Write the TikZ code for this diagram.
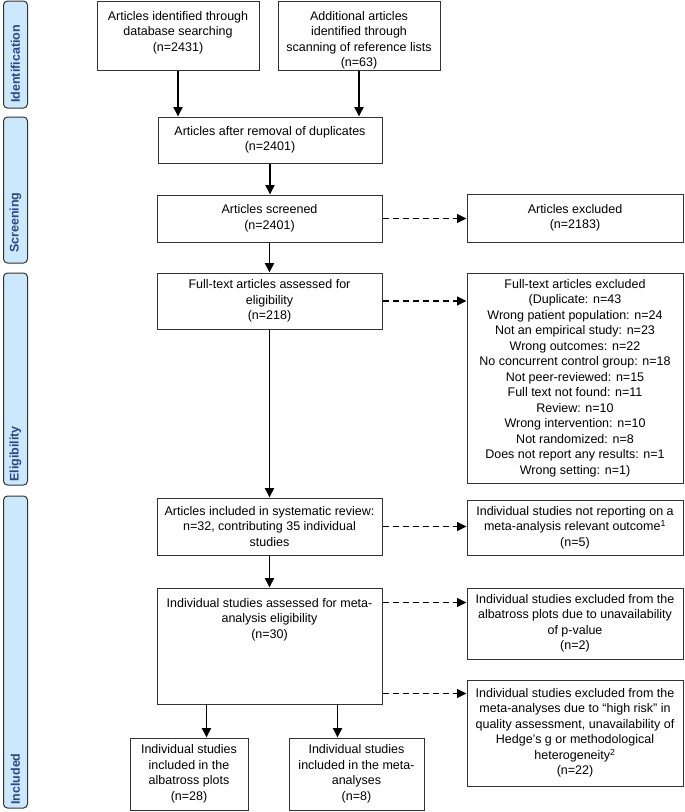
\documentclass[tikz,border=0pt]{standalone}
\usepackage{fontspec}
\setmainfont{Liberation Sans}
\usetikzlibrary{arrows.meta,calc}
\definecolor{phasefill}{HTML}{CCE8FC}
\definecolor{phasetext}{HTML}{2A4888}
\definecolor{boxline}{HTML}{333333}
\newcommand\fsz{\fontsize{12.5}{15.5}\selectfont}
\newcommand\fbx[6]{\node[flowbox, minimum width={(#4-#2)*1pt}, minimum height={(#5-#3)*1pt}] (#1) at ({(#2+#4)/2},{(#3+#5)/2}) {#6};}
\newcommand\tbx[6]{\node[flowbox, minimum width={(#4-#2)*1pt}, minimum height={(#5-#3)*1pt}] (#1) at ({(#2+#4)/2},{(#3+#5)/2}) {};
  \node[txt, anchor=north] (#1-t) at ([yshift=-10.5pt]#1.north) {#6};}
\newcommand\phs[5]{\node[phasebox, minimum height={(#3-#2)*1pt}] (#1) at (15.5,{(#2+#3)/2}) {};
  \node[phasetxt] (#1-t) at (15.5,#4) {#5};}
\begin{document}
\begin{tikzpicture}[x=1pt,y=-1pt,
  flowbox/.style={draw=boxline, line width=1pt, fill=white, inner sep=0pt, align=center, font=\fsz},
  txt/.style={inner sep=0pt, align=center, font=\fsz},
  phasebox/.style={draw=boxline, fill=phasefill, rounded corners=4pt, minimum width=24pt, line width=1pt, inner sep=0pt},
  phasetxt/.style={rotate=90, anchor=west, inner sep=0pt, text=phasetext, font=\fsz\bfseries},
  arr/.style={line width=1.9pt, -{Triangle[length=9.5pt,width=9pt]}},
  darr/.style={line width=1.5pt, dash pattern=on 6pt off 4pt, -{Triangle[length=9.5pt,width=9pt]}}]
\useasboundingbox[fill=white] (0,0) rectangle (685,812);

% phase labels
\phs{pI}{1}{108}{103}{Identification}
\phs{pS}{117}{263}{253}{Screening}
\phs{pE}{273}{485}{482}{Eligibility}
\phs{pN}{496}{808}{805}{Included}

% boxes
\tbx{b1}{97}{1}{259}{70}{Articles identified through\\database searching\\(n=2431)}
\tbx{b2}{278}{1}{440}{70}{Additional articles\\identified through\\scanning of reference lists\\(n=63)}
\fbx{dup}{158}{117}{382}{163}{Articles after removal of duplicates\\(n=2401)}
\fbx{scr}{157}{195}{382}{242}{Articles screened\\(n=2401)}
\fbx{exc}{467}{194}{683}{242}{Articles excluded\\(n=2183)}
\fbx{ft}{157}{273}{382}{329}{Full-text articles assessed for\\eligibility\\(n=218)}
\fbx{ftx}{467}{273}{683}{483}{Full-text articles excluded\\(Duplicate: n=43\\Wrong patient population: n=24\\Not an empirical study: n=23\\Wrong outcomes: n=22\\No concurrent control group: n=18\\Not peer-reviewed: n=15\\Full text not found: n=11\\Review: n=10\\Wrong intervention: n=10\\Not randomized: n=8\\Does not report any results: n=1\\Wrong setting: n=1)}
\fbx{sr}{157}{498}{382}{555}{Articles included in systematic review:\\n=32, contributing 35 individual\\studies}
\fbx{nr}{467}{500}{683}{555}{Individual studies not reporting on a\\meta-analysis relevant outcome\textsuperscript{1}\\(n=5)}
\tbx{ass}{157}{588}{382}{704}{Individual studies assessed for meta-\\analysis eligibility\\(n=30)}
\fbx{alb}{467}{588}{683}{659}{Individual studies excluded from the\\albatross plots due to unavailability\\of p-value\\(n=2)}
\fbx{hr}{467}{680}{683}{786}{Individual studies excluded from the\\meta-analyses due to “high risk” in\\quality assessment, unavailability of\\Hedge’s g or methodological\\heterogeneity\textsuperscript{2}\\(n=22)}
\fbx{ba}{130}{738}{248}{810}{Individual studies\\included in the\\albatross plots\\(n=28)}
\fbx{bm}{289}{738}{424}{810}{Individual studies\\included in the meta-\\analyses\\(n=8)}

% solid arrows
\draw[arr] (b1.south) -- (b1.south |- dup.north);
\draw[arr] (b2.south) -- (b2.south |- dup.north);
\draw[arr] (dup.south) -- (dup.south |- scr.north);
\draw[arr] (scr.south) -- (ft.north);
\draw[arr] (ft.south) -- (sr.north);
\draw[arr] (sr.south) -- (ass.north);
\coordinate (a1) at ([xshift=50pt]ass.south west);
\coordinate (a2) at ([xshift=-45pt]ass.south east);
\draw[arr] (a1) -- (a1 |- ba.north);
\draw[arr] (a2) -- (a2 |- bm.north);

% dashed arrows
\draw[darr] (scr.east) -- (scr.east -| exc.west);
\draw[darr] (ft.east) -- (ft.east -| ftx.west);
\draw[darr] (sr.east) -- (sr.east -| nr.west);
\coordinate (a3) at ([yshift=-15pt]ass.north east);
\coordinate (a4) at ([yshift=11pt]ass.south east);
\draw[darr] (a3) -- (a3 -| alb.west);
\draw[darr] (a4) -- (a4 -| hr.west);
\end{tikzpicture}
\end{document}
